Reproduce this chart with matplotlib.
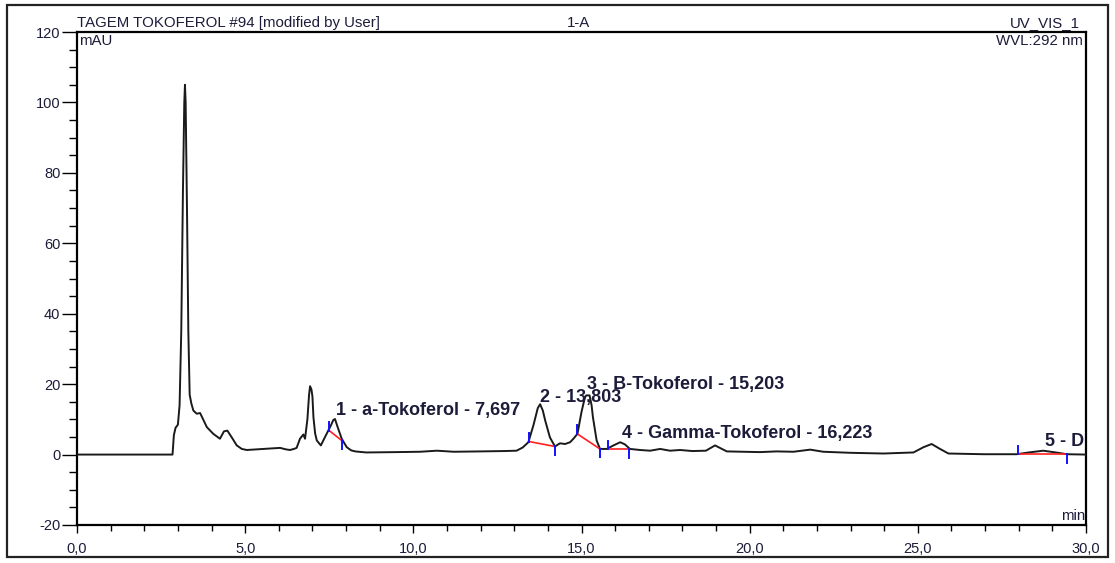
"""Chromatogram: TAGEM TOKOFEROL #94, UV_VIS_1 at 292 nm."""

import matplotlib

matplotlib.use("Agg")
import matplotlib.pyplot as plt
from matplotlib.patches import Rectangle
from matplotlib.ticker import FuncFormatter, MultipleLocator

# trace (retention time in min, signal in mAU)
time_min = [
    0.0, 2.84, 2.88, 2.93, 3.00, 3.05, 3.10, 3.15, 3.19, 3.21, 3.23, 3.27, 3.31, 3.35,
    3.40, 3.46, 3.56, 3.66, 3.74, 3.86, 4.05, 4.25, 4.37, 4.47, 4.60, 4.75, 4.90, 5.05,
    5.54, 6.04, 6.20, 6.33, 6.45, 6.53, 6.63, 6.73, 6.78, 6.85, 6.90, 6.93, 6.97, 7.00,
    7.03, 7.08, 7.13, 7.25, 7.37, 7.47, 7.55, 7.62, 7.67, 7.75, 7.87, 8.02, 8.15, 8.27,
    8.6, 9.5, 10.2, 10.7, 11.2, 12.0, 12.7, 13.07, 13.25, 13.42, 13.57, 13.70, 13.77,
    13.85, 13.92, 14.06, 14.21, 14.36, 14.51, 14.66, 14.76, 14.88, 15.00, 15.10, 15.14,
    15.24, 15.30, 15.34, 15.45, 15.55, 15.75, 15.95, 16.15, 16.29, 16.44, 16.74, 17.04,
    17.34, 17.63, 17.93, 18.3, 18.7, 18.97, 19.32, 19.8, 20.31, 20.8, 21.3, 21.8, 22.19,
    23.0, 23.98, 24.87, 25.17, 25.41, 25.66, 25.91, 26.95, 27.94, 28.3, 28.73, 29.1,
    29.43, 30.0,
]
signal_mau = [
    0.0, 0.0, 5.5, 7.6, 8.5, 14.0, 35.0, 75.0, 100.0, 105.0, 100.0, 70.0, 35.0, 17.0,
    14.5, 12.5, 11.6, 11.8, 10.2, 7.8, 5.9, 4.5, 6.6, 6.8, 4.9, 2.6, 1.6, 1.3,
    1.6, 1.9, 1.5, 1.3, 1.6, 1.9, 4.5, 5.7, 4.5, 10.0, 17.0, 19.4, 18.5, 16.5,
    10.6, 6.0, 4.0, 2.6, 4.9, 6.8, 8.3, 9.8, 10.1, 7.8, 4.5, 2.1, 1.2, 0.9,
    0.6, 0.7, 0.8, 1.1, 0.8, 0.9, 1.0, 1.1, 2.0, 3.5, 8.3, 13.2, 14.3,
    12.5, 9.7, 4.9, 2.3, 3.2, 3.0, 3.5, 4.5, 5.9, 12.1, 16.2, 16.8,
    16.8, 14.0, 10.6, 4.0, 1.6, 1.6, 2.6, 3.5, 2.9, 1.6, 1.3, 1.1,
    1.6, 1.1, 1.3, 1.0, 1.1, 2.6, 0.9, 0.8, 0.7, 0.9, 0.8, 1.4, 0.8,
    0.5, 0.3, 0.6, 2.1, 3.0, 1.6, 0.3, 0.1, 0.1, 0.6, 1.1, 0.6,
    0.1, 0.0,
]

# integrated peaks: label, label anchor, baseline start/end
peak_labels = [
    "1 - a-Tokoferol - 7,697",
    "2 - 13,803",
    "3 - B-Tokoferol - 15,203",
    "4 - Gamma-Tokoferol - 16,223",
    "5 - D",
]
label_x = [7.70, 13.77, 15.17, 16.20, 28.78]
label_y = [12.5, 16.3, 20.0, 6.0, 3.7]
base_start_t = [7.50, 13.44, 14.87, 15.78, 27.98]
base_start_y = [6.8, 3.7, 5.9, 1.5, 0.1]
base_end_t = [7.87, 14.21, 15.55, 16.41, 29.44]
base_end_y = [4.0, 2.3, 1.6, 1.5, 0.1]

TEXT = "#1c1c3a"
plt.rcParams["font.family"] = ["Liberation Sans", "DejaVu Sans"]

fig = plt.figure(figsize=(11.15, 5.63), dpi=100)
ax = fig.add_axes([77 / 1115, 1 - 525 / 563, 1009 / 1115, 493 / 563])

ax.plot(time_min, signal_mau, color="#1a1a1a", linewidth=1.4, zorder=3)

for i in range(len(peak_labels)):
    ax.plot([base_start_t[i], base_end_t[i]], [base_start_y[i], base_end_y[i]],
            color="#ff2020", linewidth=1.2, zorder=4)
    ax.plot([base_start_t[i], base_start_t[i]], [base_start_y[i], base_start_y[i] + 2.4],
            color="#1010ff", linewidth=1.4, zorder=5)
    ax.plot([base_end_t[i], base_end_t[i]], [base_end_y[i], base_end_y[i] - 2.4],
            color="#1010ff", linewidth=1.4, zorder=5)
    ax.text(label_x[i], label_y[i], peak_labels[i], fontsize=13, fontweight="bold",
            color=TEXT, ha="left", va="center", clip_on=True, zorder=6)

ax.set_xlim(0, 30)
ax.set_ylim(-20, 120)
ax.xaxis.set_major_locator(MultipleLocator(5))
ax.xaxis.set_minor_locator(MultipleLocator(1))
ax.yaxis.set_major_locator(MultipleLocator(20))
ax.yaxis.set_minor_locator(MultipleLocator(5))
ax.xaxis.set_major_formatter(FuncFormatter(lambda v, p: f"{v:.1f}".replace(".", ",")))
ax.yaxis.set_major_formatter(FuncFormatter(lambda v, p: f"{v:.0f}"))
ax.tick_params(axis="y", which="major", length=11, width=1, pad=1, labelsize=10.5,
               labelcolor=TEXT)
ax.tick_params(axis="y", which="minor", length=6, width=1)
ax.tick_params(axis="x", which="major", length=6, width=1, pad=6, labelsize=10.5,
               labelcolor=TEXT)
ax.tick_params(axis="x", which="minor", length=4, width=1)
ax.spines["top"].set_visible(False)
ax.spines["right"].set_visible(False)
for side in ["left", "bottom"]:
    ax.spines[side].set_linewidth(1.6)
# plot frame top/right drawn as lines to match the thin header line
ax.axhline(120, color="black", linewidth=1.6, clip_on=False)
ax.axvline(30, color="black", linewidth=1.6, clip_on=False)

ax.text(0.0, 1.004, "TAGEM TOKOFEROL #94 [modified by User]", transform=ax.transAxes,
        fontsize=10.8, color=TEXT, ha="left", va="bottom")
ax.text(0.486, 1.004, "1-A", transform=ax.transAxes, fontsize=10.8, color=TEXT,
        ha="left", va="bottom")
ax.text(0.994, 1.004, "UV_VIS_1", transform=ax.transAxes, fontsize=10.8, color=TEXT,
        ha="right", va="bottom")
ax.text(0.002, 0.995, "mAU", transform=ax.transAxes, fontsize=10.8, color=TEXT,
        ha="left", va="top")
ax.text(0.997, 0.995, "WVL:292 nm", transform=ax.transAxes, fontsize=10.8, color=TEXT,
        ha="right", va="top")
ax.text(0.999, 0.005, "min", transform=ax.transAxes, fontsize=10.8, color=TEXT,
        ha="right", va="bottom")

fig.patches.append(Rectangle((7 / 1115, 1 - 557 / 563), 1101 / 1115, 552 / 563,
                             transform=fig.transFigure, fill=False,
                             edgecolor="#222222", linewidth=1.6))

fig.savefig("out.png", dpi=100)
plt.close(fig)
